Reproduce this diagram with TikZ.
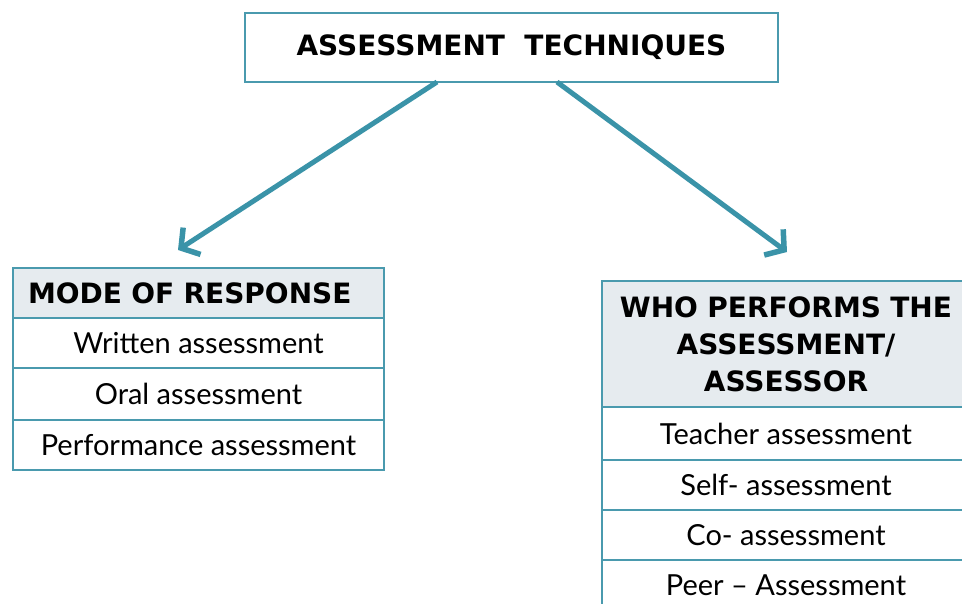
\documentclass[tikz,border=0pt]{standalone}
\usepackage{fontspec}
\setmainfont{Lato}
\newfontfamily\capsfont{DejaVu Sans}
\usetikzlibrary{arrows.meta,positioning}

\definecolor{edgeblue}{HTML}{4A9AAE}
\definecolor{arrowblue}{HTML}{3A93A8}
\definecolor{headgray}{HTML}{E6EBEF}

\tikzset{
  cell/.style={draw=edgeblue, line width=1.5pt, outer sep=0pt, inner sep=0pt,
    minimum height=50pt, font=\fontsize{29}{31}\selectfont},
  head/.style={cell, fill=headgray, font=\capsfont\fontsize{28}{37}\selectfont\bfseries},
  branch/.style={arrowblue, line width=5pt,
    -{Straight Barb[length=13pt,width=32pt,line width=5.5pt]}},
}

\begin{document}
\begin{tikzpicture}[x=1pt,y=-1pt]
\newcommand{\lw}{371}
\newcommand{\rw}{368}

\useasboundingbox (0,0) rectangle (962,603);
\clip (0,0) rectangle (962,603);

% title
\node[cell, anchor=north west, minimum width=533pt, minimum height=69pt,
  font=\capsfont\fontsize{28}{30}\selectfont\bfseries] (tech) at (245,13)
  {ASSESSMENT\ \ TECHNIQUES};

% mode of response
\node[head, anchor=north west, minimum width=\lw pt, text width=\lw pt-30pt,
  inner xsep=15pt, align=left] (mode) at (13,268) {MODE OF RESPONSE};
\node[cell, minimum width=\lw pt, below=0pt of mode] (written) {Written assessment};
\node[cell, minimum width=\lw pt, below=0pt of written, minimum height=52pt] (oral) {Oral assessment};
\node[cell, minimum width=\lw pt, below=0pt of oral] (perf) {Performance assessment};

% who performs the assessment
\node[head, anchor=north west, minimum width=\rw pt, minimum height=126pt,
  text width=\rw pt, align=center] (who) at (602,281)
  {WHO PERFORMS THE\\ASSESSMENT/\\ASSESSOR};
\node[cell, minimum width=\rw pt, below=0pt of who, minimum height=53pt] (teacher) {Teacher assessment};
\node[cell, minimum width=\rw pt, below=0pt of teacher] (self) {Self- assessment};
\node[cell, minimum width=\rw pt, below=0pt of self] (co) {Co- assessment};
\node[cell, minimum width=\rw pt, below=0pt of co] (peer) {Peer -- Assessment};

\coordinate (modetip) at (178,250);
\coordinate (whotip) at (787,252);
\draw[branch] ([xshift=-74.5pt]tech.south) -- (modetip);
\draw[branch] ([xshift=45.5pt]tech.south) -- (whotip);
\end{tikzpicture}
\end{document}
